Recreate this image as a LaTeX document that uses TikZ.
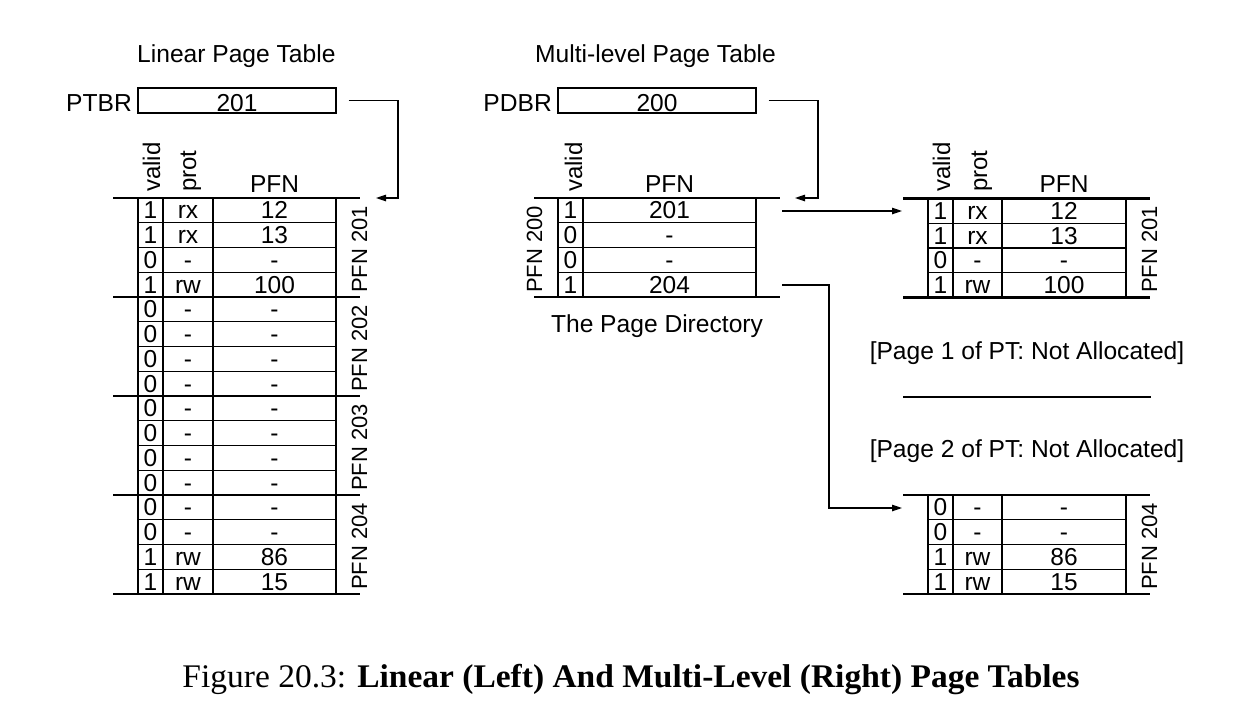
\documentclass[tikz,border=0pt]{standalone}
\usepackage{fontspec}
\setmainfont{Liberation Sans}
\newfontfamily\capfont{Liberation Serif}
\usetikzlibrary{arrows.meta}
\begin{document}
\begin{tikzpicture}[x=1pt,y=-1pt,
  cell/.style={inner sep=0pt, anchor=base, font=\fontsize{24.5}{28}\selectfont},
  lbl/.style={inner sep=0pt, font=\fontsize{24.6}{28}\selectfont},
  hdr/.style={inner sep=0pt, anchor=base west, rotate=90, font=\fontsize{24}{28}\selectfont},
  side/.style={inner sep=0pt, anchor=base, rotate=90, font=\fontsize{22}{26}\selectfont},
  thickrule/.style={line width=2.4pt},
  thinrule/.style={line width=1.2pt},
  regbox/.style={draw, line width=1.1pt, minimum width=198pt, minimum height=25pt, inner sep=0pt},
  conn/.style={line width=1.2pt, -{Triangle[length=10pt,width=6.5pt]}}
]
\useasboundingbox (0,0) rectangle (1248,716);

% ---------- titles ----------
\node[lbl, anchor=base west] (t1) at (137,62) {Linear Page Table};
\node[lbl, anchor=base west] (t2) at (535,62) {Multi-level Page Table};

% ---------- registers ----------
\node[lbl, anchor=base east] (ptbrl) at (132,111.5) {PTBR};
\node[regbox] (ptbr) at (237,100.5) {};
\node[cell] (ptbrv) at (237,111.5) {201};
\node[lbl, anchor=base east] (pdbrl) at (552,111.5) {PDBR};
\node[regbox] (pdbr) at (657,100.5) {};
\node[cell] (pdbrv) at (657,111.5) {200};

% ---------- linear page table ----------
\node[hdr] (lhv) at (160,192) {valid};
\node[hdr] (lhp) at (196,192) {prot};
\node[cell] (lhf) at (274.5,192) {PFN};
\foreach \v/\p/\f [count=\i from 0] in {1/rx/12,1/rx/13,0/-/-,1/rw/100,0/-/-,0/-/-,0/-/-,0/-/-,0/-/-,0/-/-,0/-/-,0/-/-,0/-/-,0/-/-,1/rw/86,1/rw/15}{
  \node[cell] (lv\i) at (150.5,{198+24.75*(\i+1)-4}) {\v};
  \node[cell] (lp\i) at (188,{198+24.75*(\i+1)-4}) {\p};
  \node[cell] (lf\i) at (274.5,{198+24.75*(\i+1)-4}) {\f};
}
\foreach \i in {1,2,3,5,6,7,9,10,11,13,14,15}
  \draw[thinrule] (138,{198+24.75*\i}) -- (336,{198+24.75*\i});
\foreach \x in {138,163,213,336}
  \draw[thinrule] (\x,198) -- (\x,594);
\foreach \i in {0,4,8,12,16}
  \draw[thickrule] (113,{198+24.75*\i}) -- (360,{198+24.75*\i});
\foreach \n [count=\k from 0] in {201,202,203,204}
  \node[side] (ls\n) at (367,{249.5+99*\k}) {PFN \n};

% ---------- page directory ----------
\node[hdr] (dhv) at (582,192) {valid};
\node[cell] (dhf) at (669.5,192) {PFN};
\foreach \v/\f [count=\i from 0] in {1/201,0/-,0/-,1/204}{
  \node[cell] (dv\i) at (570.5,{198+24.75*(\i+1)-4}) {\v};
  \node[cell] (df\i) at (669.5,{198+24.75*(\i+1)-4}) {\f};
}
\foreach \i in {1,2,3}
  \draw[thinrule] (558,{198+24.75*\i}) -- (756,{198+24.75*\i});
\foreach \x in {558,583,756}
  \draw[thinrule] (\x,198) -- (\x,297);
\foreach \i in {0,4}
  \draw[thickrule] (534,{198+24.75*\i}) -- (780,{198+24.75*\i});
\node[side] (ds) at (542,249.5) {PFN 200};
\node[lbl, anchor=base] (dcap) at (657,332) {The Page Directory};

% ---------- PT page 201 (right) ----------
\node[hdr] (rhv) at (950,192) {valid};
\node[hdr] (rhp) at (987,192) {prot};
\node[cell] (rhf) at (1064,192) {PFN};
\foreach \v/\p/\f [count=\i from 0] in {1/rx/12,1/rx/13,0/-/-,1/rw/100}{
  \node[cell] (av\i) at (940.5,{198.5+24.75*(\i+1)-4}) {\v};
  \node[cell] (ap\i) at (977.5,{198.5+24.75*(\i+1)-4}) {\p};
  \node[cell] (af\i) at (1064,{198.5+24.75*(\i+1)-4}) {\f};
}
\foreach \i in {1,2,3}
  \draw[thinrule] (928,{198.5+24.75*\i}) -- (1126,{198.5+24.75*\i});
\foreach \x in {928,953,1002,1126}
  \draw[thinrule] (\x,198.5) -- (\x,297.5);
\foreach \i in {0,4}
  \draw[thickrule] (903,{198.5+24.75*\i}) -- (1150,{198.5+24.75*\i});
\node[side] (as) at (1157,249.5) {PFN 201};

% ---------- not allocated pages ----------
\node[lbl, anchor=base] (na1) at (1027,359) {[Page 1 of PT: Not Allocated]};
\draw[thickrule] (903,397) -- (1151,397);
\node[lbl, anchor=base] (na2) at (1027,457) {[Page 2 of PT: Not Allocated]};

% ---------- PT page 204 (right) ----------
\foreach \v/\p/\f [count=\i from 0] in {0/-/-,0/-/-,1/rw/86,1/rw/15}{
  \node[cell] (bv\i) at (940.5,{495+24.75*(\i+1)-4}) {\v};
  \node[cell] (bp\i) at (977.5,{495+24.75*(\i+1)-4}) {\p};
  \node[cell] (bf\i) at (1064,{495+24.75*(\i+1)-4}) {\f};
}
\foreach \i in {1,2,3}
  \draw[thinrule] (928,{495+24.75*\i}) -- (1126,{495+24.75*\i});
\foreach \x in {928,953,1002,1126}
  \draw[thinrule] (\x,495) -- (\x,594);
\foreach \i in {0,4}
  \draw[thickrule] (903,{495+24.75*\i}) -- (1150,{495+24.75*\i});
\node[side] (bs) at (1157,546.5) {PFN 204};

% ---------- connectors ----------
\coordinate (ptbrA) at ([xshift=12pt]ptbr.east);
\coordinate (ptbrC) at (398,198);
\coordinate (ptbrT) at (376,198);
\draw[conn] (ptbrA) -| (ptbrC) -- (ptbrT);

\coordinate (pdbrA) at ([xshift=12pt]pdbr.east);
\coordinate (pdbrC) at (818,198);
\coordinate (pdbrT) at (795,198);
\draw[conn] (pdbrA) -| (pdbrC) -- (pdbrT);

\coordinate (d0A) at (782,211);
\coordinate (d0T) at (902,211);
\draw[conn] (d0A) -- (d0T);

\coordinate (d3A) at (782,285);
\coordinate (d3C) at (829,508);
\coordinate (d3T) at (902,508);
\draw[conn] (d3A) -| (d3C) -- (d3T);

% ---------- caption ----------
\node[inner sep=0pt, anchor=base] (cap) at (631,687)
  {\resizebox{897pt}{\height}{\capfont\fontsize{33}{36}\selectfont Figure 20.3: \textbf{Linear (Left) And Multi-Level (Right) Page Tables}}};
\end{tikzpicture}
\end{document}
